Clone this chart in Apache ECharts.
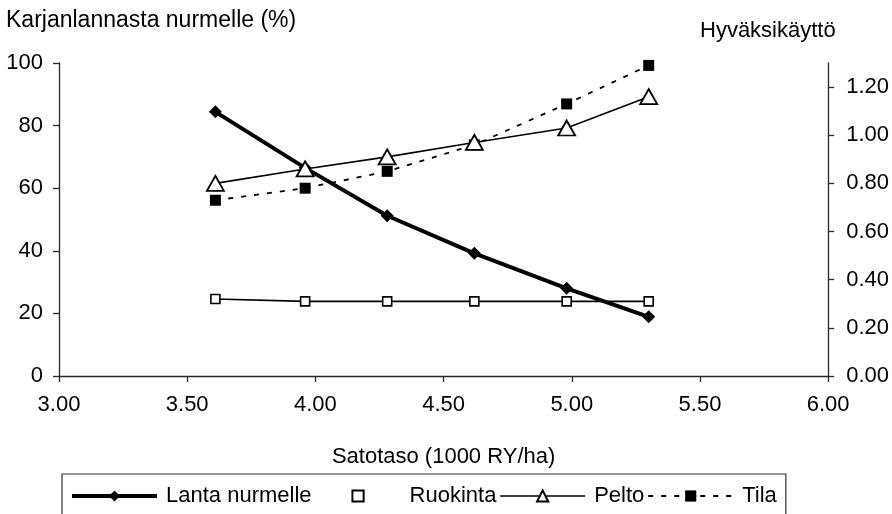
<!DOCTYPE html>
<html>
<head>
<meta charset="utf-8">
<script src="https://cdn.jsdelivr.net/npm/echarts@6/dist/echarts.min.js"></script>
<style>
  html, body { margin: 0; padding: 0; background: #fff; }
  #chart { width: 892px; height: 514px; }
</style>
</head>
<body>
<div id="chart"></div>
<script>
// Yield level (1000 RY/ha) for each scenario
const satotaso = [3.61, 3.96, 4.28, 4.62, 4.98, 5.30];
// Share of manure applied to grassland (%), left axis
const lantaNurmelle = [84.4, 66.5, 51.2, 39.2, 28.0, 18.9];
// Utilisation ratios, right axis
const ruokinta = [0.32, 0.31, 0.31, 0.31, 0.31, 0.31];
const pelto = [0.80, 0.86, 0.91, 0.97, 1.03, 1.16];
const tila = [0.73, 0.78, 0.85, 0.96, 1.13, 1.29];

const xTicks = [3.0, 3.5, 4.0, 4.5, 5.0, 5.5, 6.0];
const rightTicks = [0, 0.2, 0.4, 0.6, 0.8, 1.0, 1.2];

const pairs = (xs, ys) => xs.map((x, i) => [x, ys[i]]);

const FONT = 'Liberation Sans, Arial, sans-serif';
const FS = 22;
const AXIS_COLOR = '#262626';
const axisLine = { show: true, lineStyle: { color: AXIS_COLOR, width: 1.3 } };
const tickStyle = { color: AXIS_COLOR, width: 1.3 };

const chart = echarts.init(document.getElementById('chart'), null, { renderer: 'canvas' });
chart.setOption({
  animation: false,
  backgroundColor: '#fff',
  textStyle: { fontFamily: FONT, color: '#000' },
  title: [
    { text: 'Karjanlannasta nurmelle (%)', left: 6, top: 9, padding: 0,
      textStyle: { fontFamily: FONT, fontSize: 23, fontWeight: 'normal', color: '#000' } },
    { text: 'Hyväksikäyttö', left: 700, top: 20, padding: 0,
      textStyle: { fontFamily: FONT, fontSize: FS, fontWeight: 'normal', color: '#000' } }
  ],
  grid: { left: 59, right: 63, top: 63, bottom: 138, containLabel: false },
  legend: {
    left: 62, top: 474,
    padding: [11, 9, 24, 8],
    borderColor: '#333', borderWidth: 1.2,
    itemWidth: 85, itemHeight: 14, itemGap: 3,
    textStyle: { fontFamily: FONT, fontSize: FS, color: '#000', padding: [0, 0, 0, 4] },
    data: [
      { name: 'Lanta nurmelle', lineStyle: { width: 4 } },
      { name: 'Ruokinta', lineStyle: { opacity: 0 } },
      { name: 'Pelto', lineStyle: { width: 1.6 } },
      { name: 'Tila', lineStyle: { width: 1.8 } }
    ]
  },
  xAxis: {
    type: 'value', min: 3, max: 6, interval: 0.5,
    name: 'Satotaso (1000 RY/ha)', nameLocation: 'middle', nameGap: 70,
    nameTextStyle: { fontFamily: FONT, fontSize: FS, color: '#000' },
    axisLine: axisLine,
    axisTick: { show: true, length: 6, lineStyle: tickStyle, customValues: xTicks },
    axisLabel: { fontFamily: FONT, fontSize: FS, color: '#000', margin: 18,
      customValues: xTicks, formatter: v => v.toFixed(2) },
    splitLine: { show: false }
  },
  yAxis: [
    {
      type: 'value', min: 0, max: 100, interval: 20, position: 'left',
      axisLine: axisLine,
      axisTick: { show: true, length: 6, lineStyle: tickStyle },
      axisLabel: { fontFamily: FONT, fontSize: FS, color: '#000', margin: 16 },
      splitLine: { show: false }
    },
    {
      type: 'value', min: 0, max: 1.3, position: 'right',
      axisLine: axisLine,
      axisTick: { show: true, length: 6, lineStyle: tickStyle, customValues: rightTicks },
      axisLabel: { fontFamily: FONT, fontSize: FS, color: '#000', margin: 18,
        customValues: rightTicks, formatter: v => v.toFixed(2) },
      splitLine: { show: false }
    }
  ],
  series: [
    {
      name: 'Lanta nurmelle', type: 'line', yAxisIndex: 0,
      data: pairs(satotaso, lantaNurmelle),
      symbol: 'diamond', symbolSize: 13,
      lineStyle: { color: '#000', width: 4 },
      itemStyle: { color: '#000', borderWidth: 0 },
      z: 4
    },
    {
      name: 'Ruokinta', type: 'line', yAxisIndex: 1,
      data: pairs(satotaso, ruokinta),
      symbol: 'rect', symbolSize: 9,
      lineStyle: { color: '#000', width: 1.6 },
      itemStyle: { color: '#fff', borderColor: '#000', borderWidth: 1.6 },
      z: 3
    },
    {
      name: 'Pelto', type: 'line', yAxisIndex: 1,
      data: pairs(satotaso, pelto),
      symbol: 'triangle', symbolSize: [17, 15],
      lineStyle: { color: '#000', width: 1.6 },
      itemStyle: { color: '#fff', borderColor: '#000', borderWidth: 1.8 },
      z: 5
    },
    {
      name: 'Tila', type: 'line', yAxisIndex: 1,
      data: pairs(satotaso, tila),
      symbol: 'rect', symbolSize: 11,
      lineStyle: { color: '#000', width: 1.8, type: [5, 8] },
      itemStyle: { color: '#000', borderWidth: 0 },
      z: 3
    }
  ]
});
</script>
</body>
</html>
